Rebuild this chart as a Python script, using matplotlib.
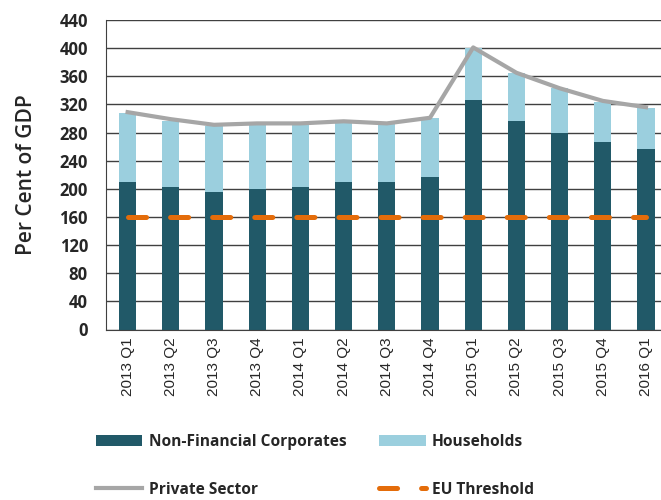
import matplotlib
matplotlib.use('agg')
import matplotlib.pyplot as plt
import numpy as np

quarters = ['2013 Q1', '2013 Q2', '2013 Q3', '2013 Q4', '2014 Q1', '2014 Q2', '2014 Q3',
            '2014 Q4', '2015 Q1', '2015 Q2', '2015 Q3', '2015 Q4', '2016 Q1']
nonFinancial = [210, 202, 196, 200, 202, 209, 209, 217, 326, 296, 279, 266, 256]
households = [98, 95, 94, 91, 89, 85, 83, 83, 74, 68, 64, 58, 59]
privateSector = [309, 299, 291, 293, 293, 296, 293, 301, 401, 365, 343, 325, 316]
euThreshold = [160] * len(quarters)

darkTeal = '#215968'
lightBlue = '#9BCFDE'
grey = '#A6A6A6'
orange = '#E46C0A'

plt.rcParams['lines.scale_dashes'] = False

fig = plt.figure(figsize=(6.61, 5.0), dpi=100)
# plot area runs a little past the right edge of the image, like the original
ax = fig.add_axes([106 / 661, 0.341, 561.6 / 661, 0.619])

x = np.arange(len(quarters))

nfcBars = ax.bar(x, nonFinancial, width=0.4, color=darkTeal, label='Non-Financial Corporates', zorder=2)
hhBars = ax.bar(x, households, width=0.4, bottom=nonFinancial, color=lightBlue, label='Households', zorder=2)
psLine, = ax.plot(x, privateSector, color=grey, linewidth=3, label='Private Sector', zorder=3)
euLine, = ax.plot(x, euThreshold, color=orange, linewidth=3.6, dashes=(13, 17.3),
                  dash_capstyle='round', label='EU Threshold', zorder=4)

ax.set_xlim(-0.5, len(quarters) - 0.5)
ax.set_ylim(0, 440)
ax.set_yticks(np.arange(0, 441, 40))
ax.yaxis.grid(True, color='#404040', linewidth=1)
ax.set_axisbelow(True)

for side in ['top', 'right']:
    ax.spines[side].set_visible(False)
ax.spines['left'].set_color('#404040')
ax.spines['bottom'].set_color('#404040')

ax.set_xticks(x)
ax.set_xticklabels(quarters, rotation=90, fontsize=11, family='Liberation Sans', color='#262626')
ax.tick_params(axis='x', length=0, pad=6)
ax.tick_params(axis='y', length=0, pad=13)
for lbl in ax.get_yticklabels():
    lbl.set_fontsize(12)
    lbl.set_fontweight('bold')
    lbl.set_family('Open Sans')
    lbl.set_color('#262626')

ax.set_ylabel('Per Cent of GDP', fontsize=15, fontweight='semibold', family='Open Sans',
              color='#262626', labelpad=16)

handles = [nfcBars, psLine, hhBars, euLine]
labels = [h.get_label() for h in handles]
fig.legend(handles, labels, ncol=2, loc='upper left', bbox_to_anchor=(0.126, 0.157),
           frameon=False, handlelength=3.0, handleheight=0.8, labelspacing=2.05,
           columnspacing=2.1, handletextpad=0.4, borderpad=0.3,
           prop={'family': 'Open Sans', 'weight': 'bold', 'size': 11.2})
for t in fig.legends[0].get_texts():
    t.set_color('#262626')

fig.savefig('out.png', dpi=100)
